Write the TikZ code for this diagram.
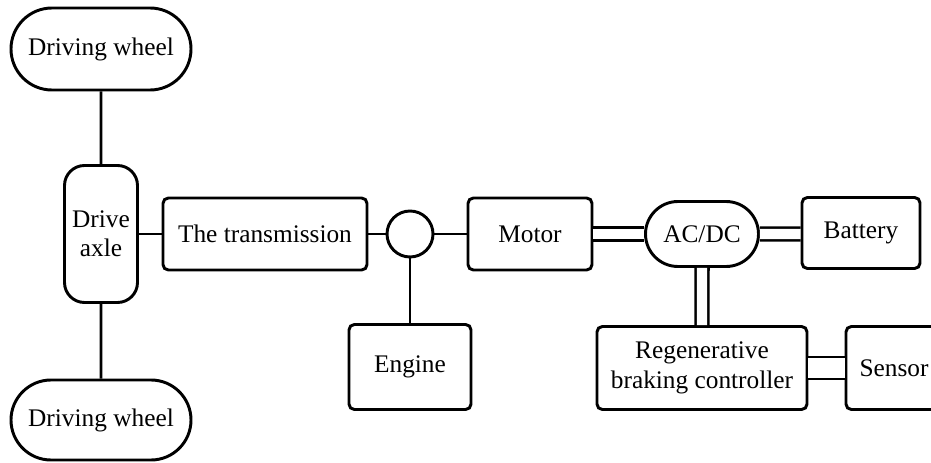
\documentclass[tikz,border=0pt]{standalone}
\usepackage{fontspec}
\setmainfont{Liberation Serif}
\usetikzlibrary{shapes.misc}

\begin{document}
\begin{tikzpicture}[x=0.75pt,y=0.75pt,yscale=-1,xscale=1,
  every node/.style={font=\fontsize{19}{22}\selectfont},
  blk/.style={draw,line width=2.2pt,rounded corners=4pt,align=center,inner sep=0pt},
  pill/.style={draw,line width=2.2pt,rounded rectangle,align=center,inner sep=0pt},
  link/.style={line width=2.2pt},
  dlink/.style={line width=2pt,double,double distance=7.6pt}]
%set diagram to the size of the figure
\clip (0,0) rectangle (931,463);

% Text Node
\node [pill,minimum width=135pt,minimum height=61.5pt] (wheelT) at (101,49) {Driving wheel};
% Text Node
\node [blk,rounded corners=15pt,minimum width=54.75pt,minimum height=102.75pt] (axle) at (101,234) {Drive\\axle};
% Text Node
\node [pill,minimum width=135pt,minimum height=60pt] (wheelB) at (101,420) {Driving wheel};
% Text Node
\node [blk,minimum width=153pt,minimum height=54pt] (trans) at (265,234) {The transmission};
% Text Node
\node [draw,line width=2.2pt,circle,minimum size=34.5pt,inner sep=0pt] (joint) at (410,234) {};
% Text Node
\node [blk,minimum width=91.5pt,minimum height=63.75pt] (engine) at (410,367) {Engine};
% Text Node
\node [blk,minimum width=93pt,minimum height=54pt] (motor) at (530,234) {Motor};
% Text Node
\node [pill,minimum width=84.75pt,minimum height=48.75pt] (acdc) at (702,234) {AC/DC};
% Text Node
\node [blk,minimum width=88.5pt,minimum height=53.25pt] (battery) at (861,233) {Battery};
% Text Node
\node [blk,minimum width=157.5pt,minimum height=62.25pt] (regen) at (702,368) {Regenerative\\braking controller};
% Text Node
\node [blk,minimum width=72pt,minimum height=62.25pt] (sensor) at (894,368) {Sensor};

%Straight Lines
\draw [link] (wheelT) -- (axle);
\draw [link] (axle) -- (wheelB);
\draw [link] (axle) -- (trans);
\draw [link] (trans) -- (joint);
\draw [link] (joint) -- (motor);
\draw [link] (joint) -- (engine);
%Double Lines
\draw [dlink] (motor) -- (acdc);
\draw [dlink] (acdc) -- (acdc -| battery.west);
\draw [dlink] (acdc) -- (regen);
\draw [dlink,double distance=14.5pt] (regen) -- (sensor);

\end{tikzpicture}
\end{document}
